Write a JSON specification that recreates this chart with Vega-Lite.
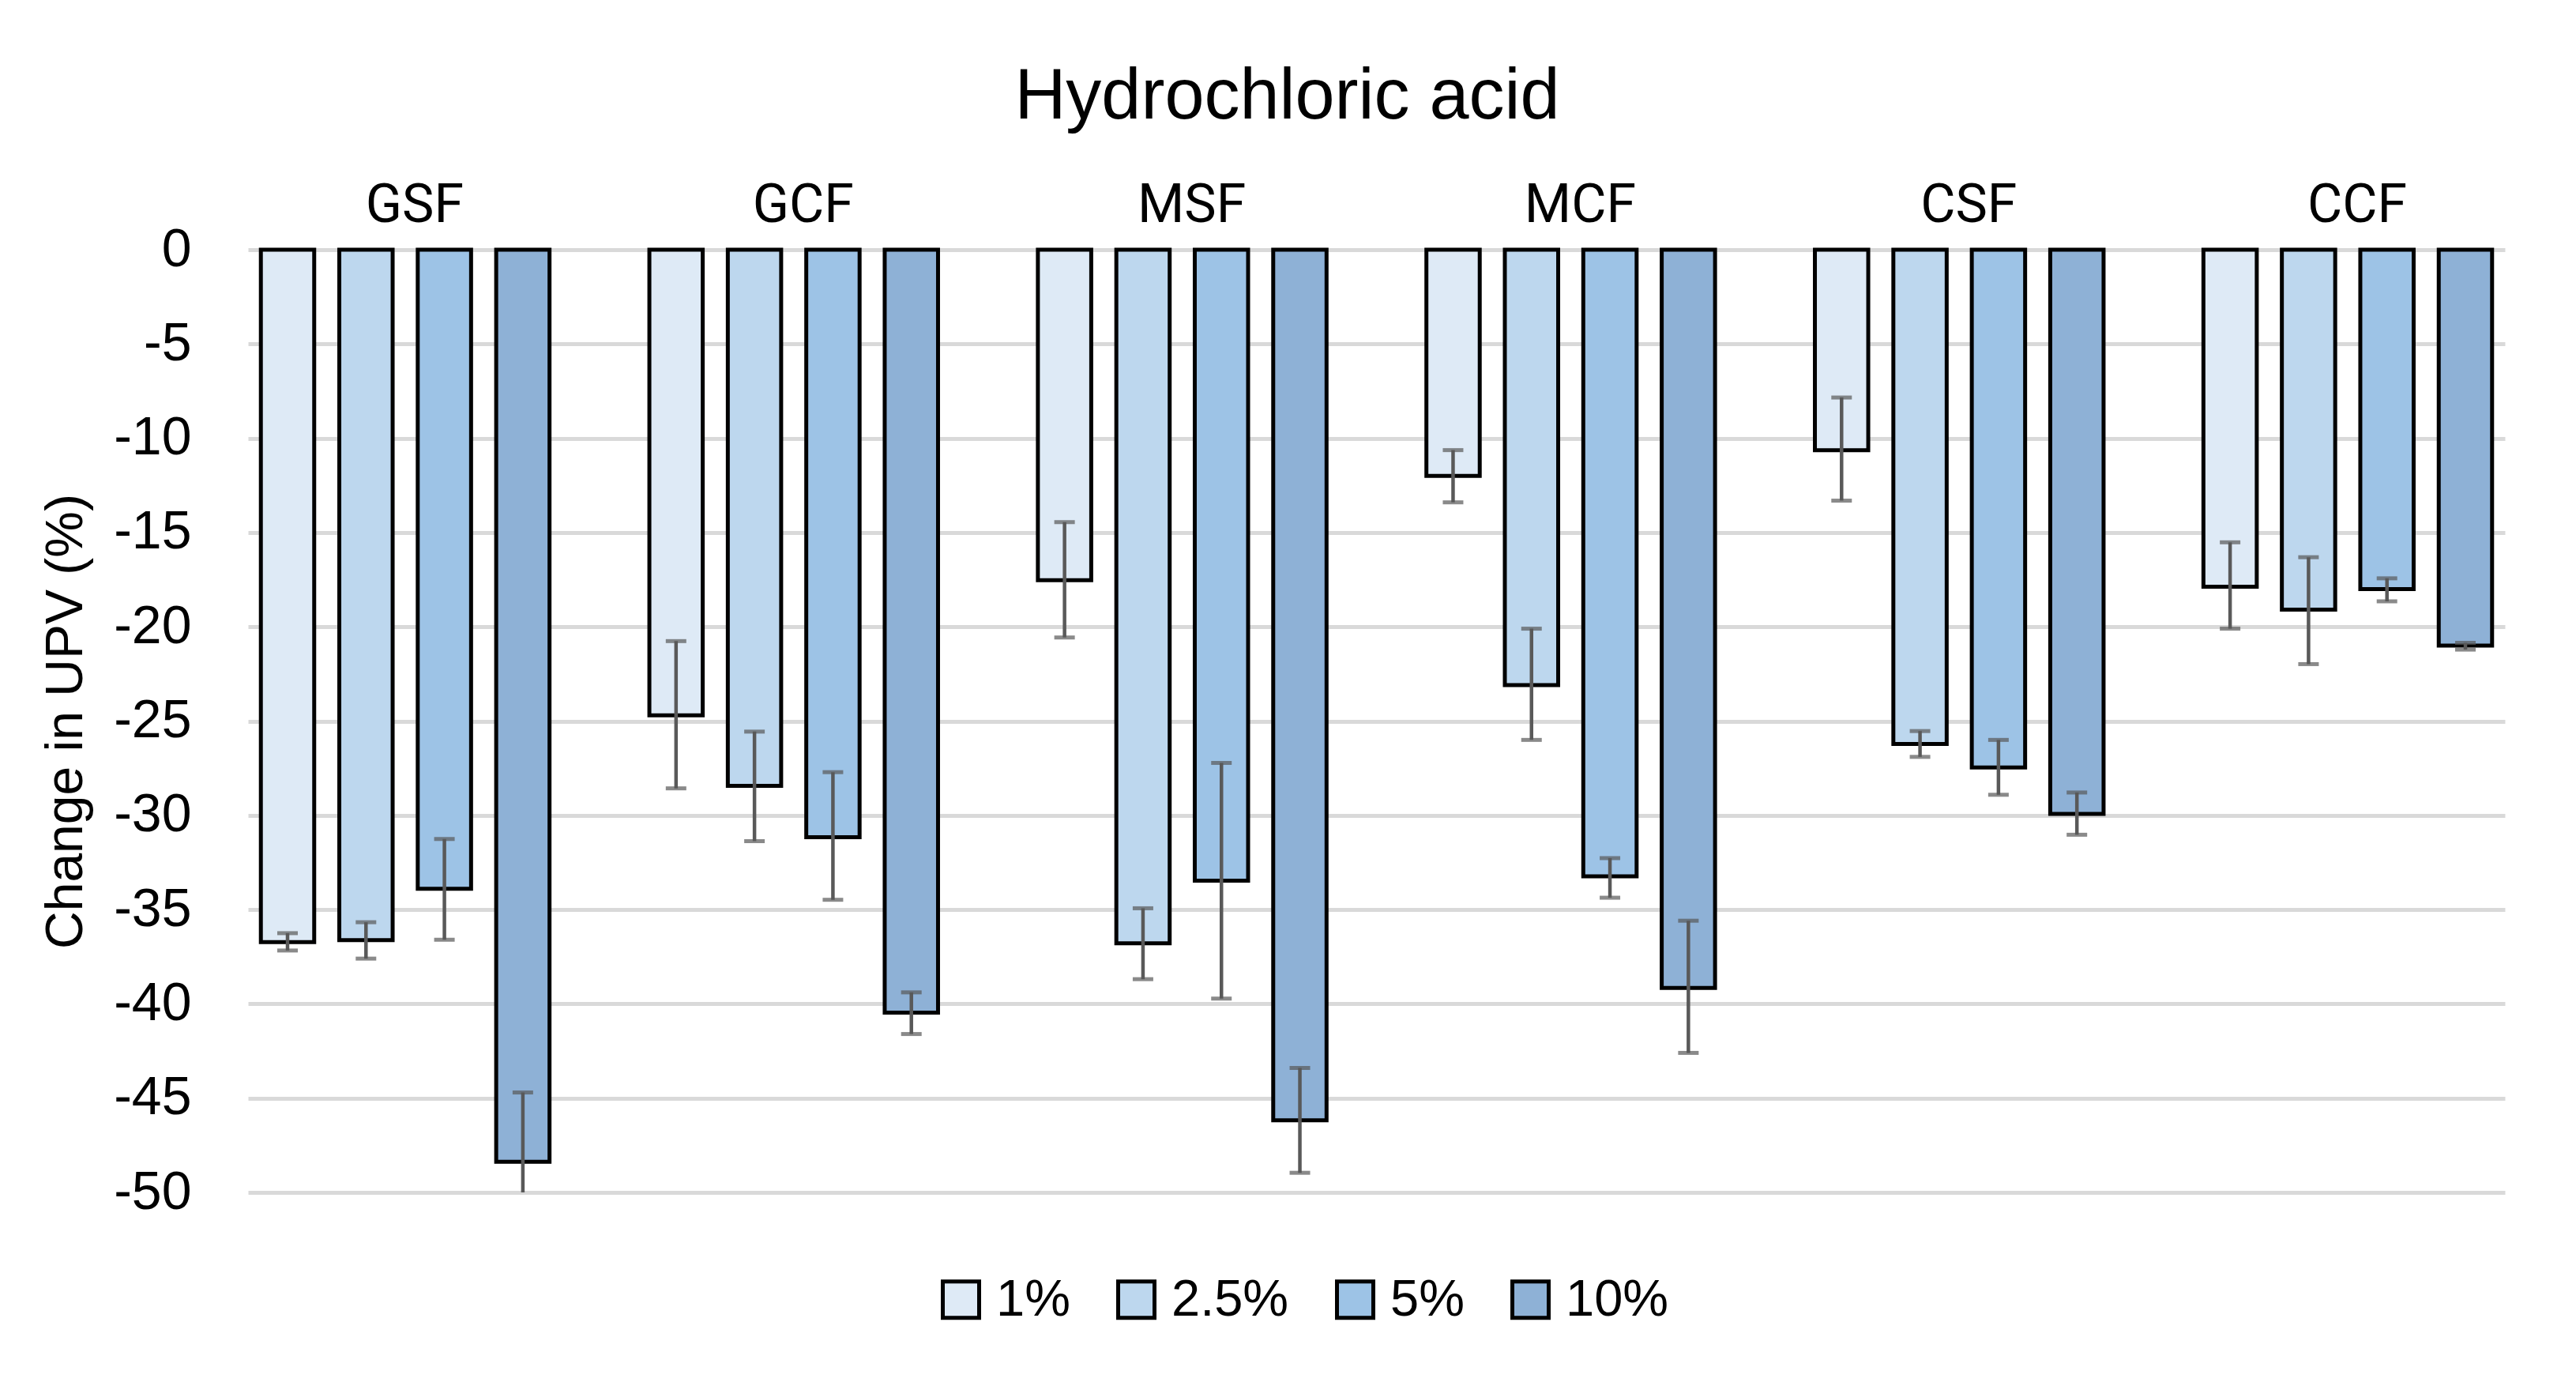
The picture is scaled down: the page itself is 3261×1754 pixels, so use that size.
{
  "$schema": "https://vega.github.io/schema/vega-lite/v6.json",
  "autosize": {"type": "none"},
  "width": 2857,
  "height": 1193,
  "padding": {"left": 314, "top": 316, "right": 90, "bottom": 245},
  "background": "white",
  "title": {
    "text": "Hydrochloric acid",
    "fontSize": 90,
    "font": "Liberation Sans",
    "fontWeight": "normal",
    "color": "black",
    "anchor": "middle",
    "dx": -113,
    "offset": 57
  },
  "data": {
    "values": [
      {"group": "GSF", "conc": "1%", "value": -36.72, "hi": -36.25, "lo": -37.17},
      {"group": "GSF", "conc": "2.5%", "value": -36.62, "hi": -35.67, "lo": -37.6},
      {"group": "GSF", "conc": "5%", "value": -33.9, "hi": -31.25, "lo": -36.6},
      {"group": "GSF", "conc": "10%", "value": -48.38, "hi": -44.7, "lo": -52.06},
      {"group": "GCF", "conc": "1%", "value": -24.7, "hi": -20.76, "lo": -28.57},
      {"group": "GCF", "conc": "2.5%", "value": -28.44, "hi": -25.56, "lo": -31.37},
      {"group": "GCF", "conc": "5%", "value": -31.16, "hi": -27.71, "lo": -34.48},
      {"group": "GCF", "conc": "10%", "value": -40.47, "hi": -39.39, "lo": -41.6},
      {"group": "MSF", "conc": "1%", "value": -17.53, "hi": -14.45, "lo": -20.57},
      {"group": "MSF", "conc": "2.5%", "value": -36.79, "hi": -34.93, "lo": -38.69},
      {"group": "MSF", "conc": "5%", "value": -33.47, "hi": -27.22, "lo": -39.72},
      {"group": "MSF", "conc": "10%", "value": -46.18, "hi": -43.4, "lo": -48.96},
      {"group": "MCF", "conc": "1%", "value": -12.0, "hi": -10.63, "lo": -13.4},
      {"group": "MCF", "conc": "2.5%", "value": -23.09, "hi": -20.1, "lo": -26.0},
      {"group": "MCF", "conc": "5%", "value": -33.24, "hi": -32.27, "lo": -34.37},
      {"group": "MCF", "conc": "10%", "value": -39.16, "hi": -35.59, "lo": -42.6},
      {"group": "CSF", "conc": "1%", "value": -10.63, "hi": -7.84, "lo": -13.31},
      {"group": "CSF", "conc": "2.5%", "value": -26.22, "hi": -25.53, "lo": -26.9},
      {"group": "CSF", "conc": "5%", "value": -27.46, "hi": -26.0, "lo": -28.91},
      {"group": "CSF", "conc": "10%", "value": -29.92, "hi": -28.79, "lo": -31.03},
      {"group": "CCF", "conc": "1%", "value": -17.88, "hi": -15.52, "lo": -20.1},
      {"group": "CCF", "conc": "2.5%", "value": -19.09, "hi": -16.31, "lo": -21.98},
      {"group": "CCF", "conc": "5%", "value": -18.0, "hi": -17.43, "lo": -18.65},
      {"group": "CCF", "conc": "10%", "value": -21.0, "hi": -20.85, "lo": -21.21}
    ]
  },
  "encoding": {
    "x": {
      "field": "group",
      "type": "nominal",
      "sort": ["GSF", "GCF", "MSF", "MCF", "CSF", "CCF"],
      "scale": {"paddingInner": 0.257, "paddingOuter": 0.033},
      "axis": {
        "orient": "top",
        "title": null,
        "domain": false,
        "ticks": false,
        "labelAngle": 0,
        "labelFont": "Roboto",
        "labelFontSize": 68,
        "labelColor": "black",
        "labelPadding": 22,
        "labelOffset": 12
      }
    },
    "xOffset": {
      "field": "conc",
      "type": "nominal",
      "sort": ["1%", "2.5%", "5%", "10%"],
      "scale": {"paddingInner": 0.32, "paddingOuter": 0}
    }
  },
  "layer": [
    {
      "mark": {"type": "bar", "stroke": "black", "strokeWidth": 5},
      "encoding": {
        "y": {
          "field": "value",
          "type": "quantitative",
          "scale": {"domain": [-50, 0], "nice": false},
          "axis": {
            "values": [0, -5, -10, -15, -20, -25, -30, -35, -40, -45, -50],
            "labelExpr": "replace(datum.label, '\u2212', '-')",
            "domain": false,
            "ticks": false,
            "grid": true,
            "gridColor": "#D9D9D9",
            "gridWidth": 5,
            "labelFont": "Liberation Sans",
            "labelFontSize": 68,
            "labelColor": "black",
            "labelPadding": 72,
            "title": "Change in UPV (%)",
            "titleFont": "Liberation Sans",
            "titleFontSize": 66,
            "titleFontWeight": "normal",
            "titleColor": "black",
            "titlePadding": 26
          }
        },
        "y2": {"datum": 0},
        "color": {
          "field": "conc",
          "type": "nominal",
          "sort": ["1%", "2.5%", "5%", "10%"],
          "scale": {
            "domain": ["1%", "2.5%", "5%", "10%"],
            "range": ["#DEEAF6", "#BDD7EE", "#9DC3E6", "#8EB1D6"]
          },
          "legend": {
            "orient": "none",
            "direction": "horizontal",
            "legendX": 870,
            "legendY": 1296,
            "title": null,
            "padding": 0,
            "symbolType": "square",
            "symbolSize": 2116,
            "symbolStrokeColor": "black",
            "symbolStrokeWidth": 5,
            "symbolOpacity": 1,
            "labelFont": "Liberation Sans",
            "labelFontSize": 65,
            "labelColor": "black",
            "labelOffset": 12,
            "columnPadding": 50
          }
        }
      }
    },
    {
      "mark": {"type": "rule", "color": "#595959", "strokeWidth": 4.5, "clip": true},
      "encoding": {
        "y": {"field": "lo", "type": "quantitative"},
        "y2": {"field": "hi"}
      }
    },
    {
      "mark": {"type": "tick", "color": "#595959", "size": 26, "thickness": 5, "clip": true},
      "encoding": {
        "y": {"field": "lo", "type": "quantitative"}
      }
    },
    {
      "mark": {"type": "tick", "color": "#595959", "size": 26, "thickness": 5, "clip": true},
      "encoding": {
        "y": {"field": "hi", "type": "quantitative"}
      }
    }
  ],
  "config": {
    "view": {"stroke": null},
    "tick": {"bandSize": 26}
  }
}
